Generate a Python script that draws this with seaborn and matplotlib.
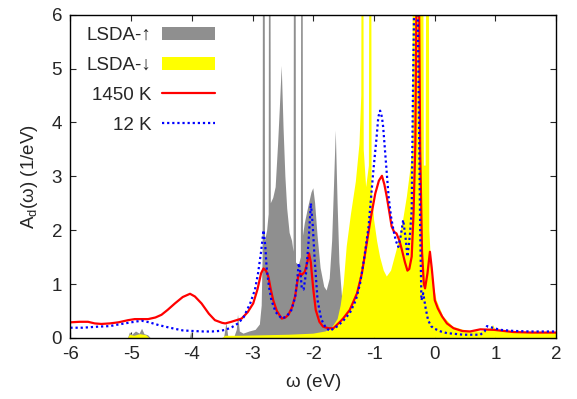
import numpy as np
import matplotlib
matplotlib.use('Agg')
import matplotlib.pyplot as plt
import seaborn as sns

# LSDA spin-up (gray fill)
x_up = [-6.0, -5.05, -5.02, -4.98, -4.92, -4.86, -4.82, -4.78, -4.72, -4.68,
        -4.03, -4.01, -3.99, -3.47, -3.43, -3.40, -3.30, -3.26, -3.24, -3.21,
        -3.15, -3.05, -2.95, -2.88, -2.85, -2.835, -2.825, -2.805, -2.795, -2.76,
        -2.735, -2.725, -2.71, -2.70, -2.66, -2.62, -2.58, -2.55, -2.52, -2.49,
        -2.46, -2.43, -2.39, -2.35, -2.325, -2.315, -2.295, -2.285, -2.24, -2.205,
        -2.195, -2.18, -2.17, -2.14, -2.08, -2.03, -2.0, -1.97, -1.93, -1.88,
        -1.82, -1.78, -1.73, -1.69, -1.66, -1.63, -1.60, -1.57, -1.53, -1.50,
        -1.45, -1.40, 2.0]
y_up = [0.0, 0.0, 0.10, 0.06, 0.12, 0.08, 0.17, 0.07, 0.05, 0.0,
        0.0, 0.12, 0.0, 0.0, 0.28, 0.02, 0.02, 0.15, 0.43, 0.12,
        0.08, 0.12, 0.15, 0.25, 0.6, 1.5, 12, 12, 1.8, 2.0,
        2.3, 12, 12, 2.5, 2.6, 2.8, 3.6, 4.3, 5.05, 3.9,
        3.0, 2.4, 1.95, 1.8, 1.6, 12, 12, 1.4, 1.35, 1.5,
        12, 12, 1.9, 2.13, 2.45, 2.7, 2.78, 2.5, 1.9, 1.3,
        0.95, 0.88, 1.1, 1.8, 2.8, 3.85, 2.5, 1.4, 0.8, 0.5,
        0.2, 0.0, 0.0]

# LSDA spin-down (yellow fill)
x_dn = [-6.0, -5.05, -5.02, -4.95, -4.85, -4.75, -4.70, -3.50, -3.45, -3.2,
        -2.8, -2.4, -2.0, -1.8, -1.7, -1.6, -1.55, -1.5, -1.45, -1.38,
        -1.30, -1.24, -1.21, -1.20, -1.18, -1.17, -1.13, -1.085, -1.07, -1.05,
        -1.04, -1.0, -0.95, -0.90, -0.84, -0.79, -0.72, -0.63, -0.52, -0.46,
        -0.41, -0.37, -0.35, -0.20, -0.18, -0.15, -0.13, -0.105, -0.09, -0.05,
        0.03, 0.14, 0.30, 0.5, 0.75, 0.90, 0.96, 1.0, 1.3, 2.0]
y_dn = [0.0, 0.0, 0.06, 0.04, 0.07, 0.05, 0.0, 0.0, 0.04, 0.04,
        0.05, 0.06, 0.08, 0.12, 0.18, 0.35, 0.6, 1.0, 1.7, 2.3,
        2.9, 3.6, 4.5, 12, 12, 3.5, 2.8, 3.2, 12, 12,
        2.8, 2.2, 1.8, 1.5, 1.25, 1.14, 1.25, 1.63, 2.2, 2.62,
        3.06, 3.5, 12, 12, 3.2, 3.2, 12, 12, 2.0, 1.14,
        0.7, 0.4, 0.21, 0.14, 0.12, 0.15, 0.24, 0.14, 0.1, 0.1]

# DMFT 1450 K
x_hot = [-6.0, -5.85, -5.71, -5.6, -5.49, -5.35, -5.21, -5.05, -4.94, -4.72,
         -4.6, -4.50, -4.40, -4.28, -4.15, -4.03, -3.95, -3.84, -3.72, -3.62,
         -3.50, -3.45, -3.35, -3.18, -3.08, -2.99, -2.92, -2.86, -2.82, -2.78,
         -2.74, -2.70, -2.66, -2.60, -2.52, -2.46, -2.41, -2.35, -2.30, -2.25,
         -2.22, -2.19, -2.14, -2.10, -2.07, -2.04, -2.03, -2.0, -1.96, -1.90,
         -1.84, -1.75, -1.67, -1.56, -1.51, -1.40, -1.28, -1.20, -1.12, -1.05,
         -0.98, -0.92, -0.87, -0.83, -0.79, -0.75, -0.71, -0.67, -0.63, -0.58,
         -0.54, -0.49, -0.45, -0.42, -0.38, -0.35, -0.32, -0.30, -0.28, -0.26,
         -0.24, -0.21, -0.18, -0.16, -0.12, -0.08, -0.05, 0.0, 0.05, 0.12,
         0.2, 0.31, 0.45, 0.58, 0.75, 0.98, 1.29, 1.6, 2.0]
y_hot = [0.29, 0.30, 0.30, 0.27, 0.26, 0.27, 0.29, 0.33, 0.35, 0.35,
         0.38, 0.43, 0.52, 0.64, 0.76, 0.82, 0.77, 0.64, 0.45, 0.33,
         0.28, 0.27, 0.30, 0.36, 0.48, 0.64, 0.9, 1.2, 1.29, 1.25,
         1.14, 0.9, 0.70, 0.5, 0.36, 0.38, 0.43, 0.57, 0.77, 1.14,
         1.2, 1.17, 1.23, 1.4, 1.57, 1.4, 1.26, 0.9, 0.52, 0.3,
         0.21, 0.18, 0.18, 0.30, 0.36, 0.52, 0.83, 1.2, 1.76, 2.25,
         2.68, 2.92, 3.01, 2.85, 2.62, 2.35, 2.07, 1.97, 1.94, 1.8,
         1.63, 1.4, 1.25, 1.28, 1.51, 2.3, 3.6, 6.5, 8.0, 6.5,
         3.5, 1.6, 1.0, 0.92, 1.2, 1.60, 1.3, 0.7, 0.55, 0.40,
         0.27, 0.18, 0.13, 0.12, 0.16, 0.15, 0.11, 0.10, 0.10]

# DMFT 12 K
x_cold = [-6.0, -5.8, -5.54, -5.35, -5.21, -5.0, -4.83, -4.7, -4.55, -4.4,
          -4.28, -4.15, -4.0, -3.8, -3.67, -3.55, -3.45, -3.34, -3.24, -3.15,
          -3.04, -2.96, -2.91, -2.86, -2.82, -2.79, -2.77, -2.73, -2.69, -2.62,
          -2.52, -2.44, -2.36, -2.30, -2.27, -2.24, -2.21, -2.19, -2.16, -2.12,
          -2.08, -2.04, -2.01, -1.98, -1.93, -1.87, -1.80, -1.73, -1.60, -1.50,
          -1.40, -1.30, -1.23, -1.16, -1.09, -1.05, -1.01, -0.96, -0.93, -0.90,
          -0.87, -0.85, -0.80, -0.76, -0.72, -0.68, -0.64, -0.60, -0.56, -0.52,
          -0.48, -0.45, -0.41, -0.38, -0.36, -0.33, -0.30, -0.27, -0.24, -0.22,
          -0.19, -0.15, -0.11, -0.06, -0.02, 0.1, 0.20, 0.47, 0.75, 0.82,
          0.86, 0.92, 1.08, 1.3, 1.57, 2.0]
y_cold = [0.19, 0.19, 0.21, 0.22, 0.25, 0.29, 0.32, 0.29, 0.24, 0.20,
          0.17, 0.14, 0.13, 0.12, 0.12, 0.13, 0.15, 0.2, 0.27, 0.38,
          0.64, 0.9, 1.2, 1.6, 2.0, 1.7, 1.32, 0.95, 0.70, 0.48,
          0.36, 0.40, 0.52, 0.75, 1.01, 1.39, 1.2, 0.92, 0.9, 1.2,
          1.76, 2.5, 2.1, 1.5, 0.7, 0.35, 0.2, 0.13, 0.22, 0.33,
          0.46, 0.7, 1.01, 1.5, 2.07, 2.6, 3.12, 3.7, 4.1, 4.22,
          4.1, 3.92, 3.2, 2.62, 2.25, 2.0, 1.8, 1.69, 1.9, 2.19,
          1.85, 1.51, 1.9, 2.37, 4.5, 7.0, 8.0, 5.0, 2.0, 0.70,
          0.83, 0.55, 0.33, 0.22, 0.18, 0.12, 0.09, 0.06, 0.06, 0.12,
          0.22, 0.2, 0.15, 0.13, 0.12, 0.12]

x_ticks = [-6, -5, -4, -3, -2, -1, 0, 1, 2]
y_ticks = [0, 1, 2, 3, 4, 5, 6]

sns.set_style('ticks')
plt.rcParams['font.family'] = ['Liberation Sans', 'DejaVu Sans']
plt.rcParams['mathtext.fontset'] = 'custom'
plt.rcParams['mathtext.rm'] = 'Liberation Sans'
plt.rcParams['font.size'] = 13.5

fig, ax = plt.subplots(figsize=(5.77, 3.99), dpi=100)
fig.subplots_adjust(left=0.122, right=0.964, bottom=0.153, top=0.963)

ax.fill_between(x_up, 0, y_up, color='#8f8f8f', lw=0, label='LSDA-↑')
ax.fill_between(x_dn, 0, y_dn, color='#ffff00', lw=0, label='LSDA-↓')
sns.lineplot(x=x_hot, y=y_hot, ax=ax, color='#ff0000', lw=1.6, sort=False,
             estimator=None, label='1450 K')
sns.lineplot(x=x_cold, y=y_cold, ax=ax, color='#0000ff', lw=1.6, sort=False,
             estimator=None, linestyle=(0, (1, 1.3)), label='12 K')

ax.set_xlim(-6, 2)
ax.set_ylim(0, 6)
ax.set_xticks(x_ticks)
ax.set_yticks(y_ticks)
ax.set_xticklabels([str(t) for t in x_ticks])
ax.set_yticklabels([str(t) for t in y_ticks])
ax.tick_params(direction='in', top=True, right=True, length=4, width=0.8,
               labelsize=13.5, pad=6)
for s in ax.spines.values():
    s.set_linewidth(1.0)
    s.set_color('black')

ax.set_xlabel('ω (eV)', fontsize=13.5, labelpad=8)
ax.set_ylabel(r'A$_\mathrm{d}$(ω) (1/eV)', fontsize=13.5, labelpad=8)

leg = ax.legend(loc='upper right', bbox_to_anchor=(0.2976, 0.962),
                frameon=False, markerfirst=False, handlelength=2.8,
                handletextpad=0.6, labelspacing=0.68, borderpad=0,
                borderaxespad=0, fontsize=13.5)

fig.savefig('out.png', dpi=100)
